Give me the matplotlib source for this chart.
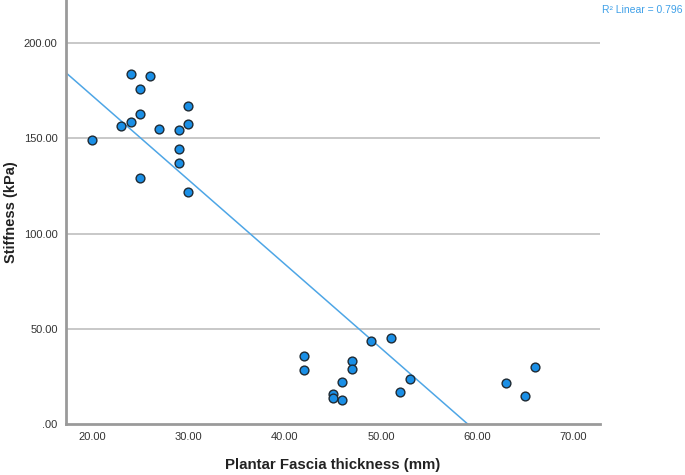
import numpy as np
import matplotlib
matplotlib.use("Agg")
import matplotlib.pyplot as plt

plt.rcParams['font.family'] = ['Liberation Sans', 'DejaVu Sans']

# Data
thickness = [20, 23, 24, 24, 25, 25, 25, 26, 27, 29, 29, 29, 30, 30, 30,
             42, 42, 47, 47, 46, 45, 45, 46, 49, 51, 53, 52, 63, 66, 65]
stiffness = [148.9, 156.6, 158.4, 183.7, 176.0, 162.9, 129.0, 182.7, 154.7,
             154.3, 144.2, 136.9, 166.9, 157.6, 121.9,
             35.9, 28.3, 33.1, 29.0, 21.9, 15.6, 13.6, 12.4, 43.7, 45.0,
             23.8, 17.0, 21.5, 30.1, 14.5]
x_ticks = [20, 30, 40, 50, 60, 70]
x_ticklabels = ["20.00", "30.00", "40.00", "50.00", "60.00", "70.00"]
y_ticks = [0, 50, 100, 150, 200]
y_ticklabels = [".00", "50.00", "100.00", "150.00", "200.00"]
r2_label = "R\u00b2 Linear = 0.796"

fig = plt.figure(figsize=(6.85, 4.75), dpi=100)
ax = fig.add_axes([66/685, 1 - 424/475, (600 - 66)/685, 424/475])

xmin, xmax = 17.3, 72.75
ymin, ymax = 0, 222.6
ax.set_xlim(xmin, xmax)
ax.set_ylim(ymin, ymax)

# grid lines
for yt in y_ticks[1:]:
    ax.axhline(yt, color='#c8c8c8', lw=1.4, zorder=0)

# regression line
slope, intercept = np.polyfit(thickness, stiffness, 1)
xs = np.array([xmin, xmax])
ax.plot(xs, slope * xs + intercept, color='#4ea6e6', lw=1.1, zorder=2)

ax.scatter(thickness, stiffness, s=40, facecolor='#1a8fe6', edgecolor='#1f2a33',
           linewidth=1.0, zorder=3)

for side in ['top', 'right']:
    ax.spines[side].set_visible(False)
for side in ['left', 'bottom']:
    ax.spines[side].set_color('#9a9a9a')
    ax.spines[side].set_linewidth(2.0)

ax.set_xticks(x_ticks)
ax.set_xticklabels(x_ticklabels)
ax.set_yticks(y_ticks)
ax.set_yticklabels(y_ticklabels)
ax.tick_params(axis='both', length=0, labelsize=8, colors='#333333', pad=6)

ax.set_xlabel("Plantar Fascia thickness (mm)", fontsize=10.8, fontweight='bold',
              color='#222222', labelpad=11)
ax.set_ylabel("Stiffness (kPa)", fontsize=10.5, fontweight='bold',
              color='#222222', labelpad=4)

fig.text(682/685, 1 - 10/475, r2_label, ha='right', va='center', fontsize=7.5,
         color='#3fa0e8')

fig.savefig("out.png", dpi=100)
